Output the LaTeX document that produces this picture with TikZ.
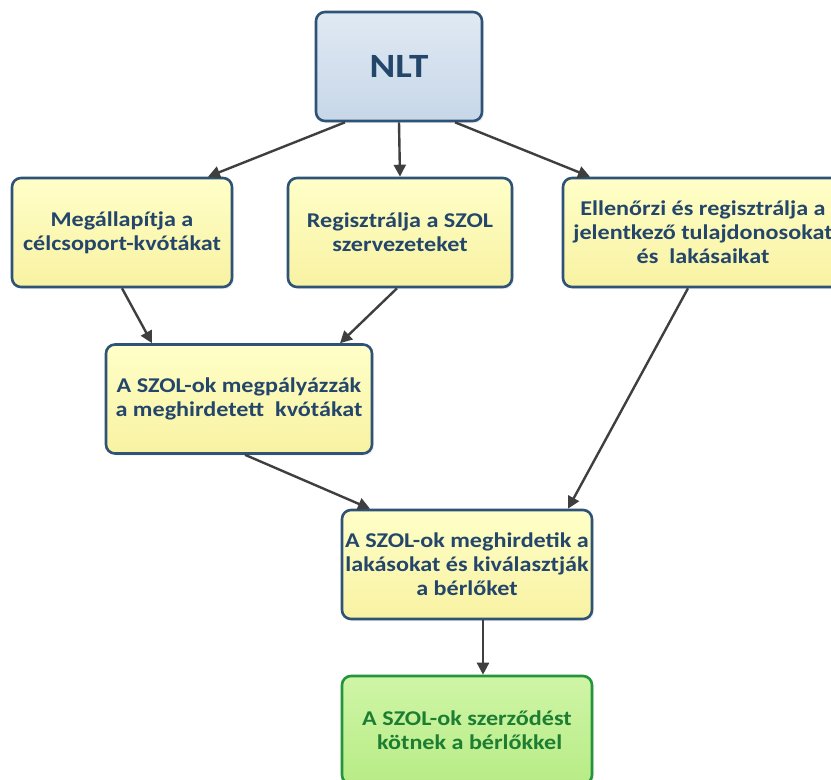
\documentclass[tikz,border=0pt]{standalone}
\usepackage{fontspec}
\setmainfont{Carlito}[FakeStretch=1.15]
\usepackage{tikz}
\usetikzlibrary{positioning,arrows.meta,shadows}
\definecolor{boxline}{HTML}{2F5377}
\definecolor{boxtext}{HTML}{24466B}
\definecolor{yelltop}{HTML}{FFFFC8}
\definecolor{yellbot}{HTML}{F8F2A2}
\definecolor{bluetop}{HTML}{E0E9F3}
\definecolor{bluebot}{HTML}{C7D7E8}
\definecolor{greenline}{HTML}{23953A}
\definecolor{greentext}{HTML}{1C7D33}
\definecolor{greentop}{HTML}{CFF5A6}
\definecolor{greenbot}{HTML}{B8EC86}
\definecolor{arrowgray}{HTML}{3F3F3F}

\begin{document}
\begin{tikzpicture}[x=1pt, y=-1pt,
  every node/.style = {rounded corners=9pt, line width=2.6pt, align=center,
    font=\bfseries\fontsize{21}{24}\selectfont, inner sep=0pt,
    drop shadow={shadow xshift=2pt, shadow yshift=-2pt, fill=black!12}},
  stepbox/.style = {draw=boxline, text=boxtext, top color=yelltop, bottom color=yellbot,
    minimum height=109pt},
  topbox/.style = {draw=boxline, text=boxtext, top color=bluetop, bottom color=bluebot,
    minimum width=166pt, minimum height=109pt, font=\bfseries\fontsize{34}{38}\selectfont},
  endbox/.style = {draw=greenline, text=greentext, top color=greentop, bottom color=greenbot,
    minimum width=250pt, minimum height=108pt},
  arr/.style = {draw=arrowgray, line width=2.4pt, -{Triangle[length=12pt, width=12pt]}}
]
\useasboundingbox (0,0) rectangle (831,780);

\node[topbox] (nlt) at (399,66.5) {NLT};
\node[stepbox, minimum width=220pt] (kvota) at (122,232.5) {Megállapítja a\\célcsoport-kvótákat};
\node[stepbox, minimum width=224pt] (regszol) at (400,232.5) {Regisztrálja a SZOL\\szervezeteket};
\node[stepbox, minimum width=280pt] (ellenor) at (703,232.5) {Ellenőrzi és regisztrálja a\\jelentkező tulajdonosokat\\és\ \ lakásaikat};
\node[stepbox, minimum width=266pt] (palyaz) at (239,399) {A SZOL-ok megpályázzák\\a meghirdetett\ \ kvótákat};
\node[stepbox, minimum width=250pt] (hirdet) at (467,564.5) {A SZOL-ok meghirdetik a\\lakásokat és kiválasztják\\a bérlőket};
\node[endbox] (szerzod) at (467,730) {A SZOL-ok szerződést\\\ kötnek a bérlőkkel};

\draw[arr] ([xshift=-54pt]nlt.south) -- ([xshift=86pt]kvota.north);
\draw[arr] (nlt.south) -- (regszol.north);
\draw[arr] ([xshift=56pt]nlt.south) -- ([xshift=-113pt]ellenor.north);
\draw[arr] (kvota.south) -- ([xshift=-87pt]palyaz.north);
\draw[arr] ([xshift=-3pt]regszol.south) -- ([xshift=101pt]palyaz.north);
\draw[arr] ([xshift=-15pt]ellenor.south) -- ([xshift=101pt]hirdet.north);
\draw[arr] ([xshift=6pt]palyaz.south) -- ([xshift=-97pt]hirdet.north);
\draw[arr] ([xshift=16pt]hirdet.south) -- ([xshift=16pt]szerzod.north);
\end{tikzpicture}
\end{document}
